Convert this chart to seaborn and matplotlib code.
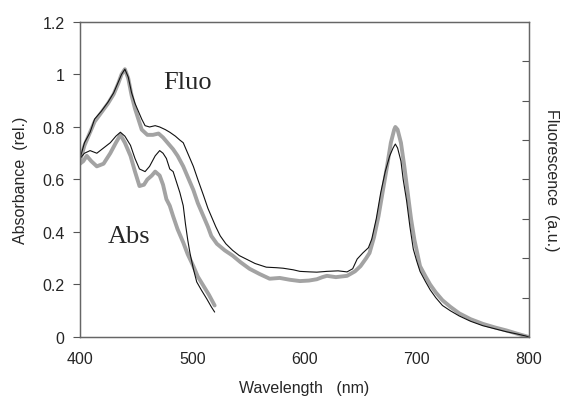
import numpy as np
import pandas as pd
import matplotlib
matplotlib.use("Agg")
import matplotlib.pyplot as plt
import seaborn as sns

# fluorescence excitation curves (400-800 nm)
fluo_black_wl = [400, 404, 409, 413, 419, 425, 430, 434, 437, 440, 443, 446, 449, 452, 455, 458, 462, 467, 471,
                 476, 480, 485, 489, 492, 496, 501, 505, 510, 514, 517, 521, 525, 530, 536, 542, 549, 556, 566,
                 575, 581, 590, 596, 605, 611, 620, 630, 638, 643, 647, 652, 657, 660, 664, 668, 672, 676, 679,
                 681, 683, 686, 688, 691, 694, 697, 700, 703, 708, 712, 717, 723, 730, 738, 748, 759, 770, 780,
                 790, 797, 800]
fluo_black_val = [0.68, 0.74, 0.78, 0.83, 0.86, 0.895, 0.93, 0.97, 1.0, 1.02, 0.99, 0.93, 0.89, 0.86, 0.83, 0.805,
                  0.80, 0.805, 0.80, 0.79, 0.78, 0.765, 0.75, 0.74, 0.70, 0.65, 0.60, 0.54, 0.49, 0.46, 0.42,
                  0.385, 0.355, 0.33, 0.31, 0.295, 0.28, 0.266, 0.264, 0.262, 0.256, 0.25, 0.248, 0.247, 0.25,
                  0.252, 0.248, 0.26, 0.297, 0.32, 0.34, 0.373, 0.45, 0.55, 0.63, 0.69, 0.72, 0.735, 0.72, 0.67,
                  0.60, 0.52, 0.42, 0.335, 0.29, 0.25, 0.21, 0.18, 0.15, 0.12, 0.10, 0.08, 0.06, 0.043, 0.031,
                  0.02, 0.011, 0.004, 0.0]

fluo_gray_wl = [400, 404, 409, 413, 419, 425, 430, 434, 437, 440, 443, 446, 449, 452, 455, 460, 465, 470, 474,
                478, 483, 487, 492, 496, 501, 505, 510, 514, 517, 522, 529, 536, 543, 551, 560, 569, 578, 587,
                596, 604, 611, 616, 620, 628, 638, 645, 650, 655, 658, 662, 666, 670, 674, 677, 680, 681, 683,
                686, 689, 692, 695, 698, 703, 708, 712, 717, 723, 730, 738, 748, 759, 770, 780, 790, 800]
fluo_gray_val = [0.67, 0.73, 0.78, 0.82, 0.855, 0.89, 0.925, 0.965, 1.0, 1.02, 0.985, 0.92, 0.87, 0.83, 0.79,
                 0.77, 0.77, 0.775, 0.76, 0.74, 0.715, 0.69, 0.65, 0.61, 0.56, 0.51, 0.46, 0.42, 0.385, 0.355,
                 0.33, 0.31, 0.285, 0.26, 0.24, 0.222, 0.225, 0.218, 0.213, 0.215, 0.22, 0.228, 0.233, 0.228,
                 0.233, 0.25, 0.27, 0.30, 0.32, 0.38, 0.46, 0.56, 0.66, 0.74, 0.79, 0.80, 0.79, 0.74, 0.65,
                 0.55, 0.45, 0.37, 0.27, 0.23, 0.20, 0.17, 0.14, 0.115, 0.09, 0.068, 0.05, 0.036, 0.025, 0.012,
                 0.0]

# absorbance curves (400-520 nm)
abs_black_wl = [400, 404, 409, 415, 421, 427, 432, 436, 440, 445, 449, 453, 458, 462, 467, 471, 474, 477, 480,
                483, 486, 489, 492, 494, 496, 498, 501, 504, 508, 513, 517, 520]
abs_black_val = [0.68, 0.70, 0.71, 0.70, 0.72, 0.74, 0.765, 0.78, 0.765, 0.73, 0.68, 0.64, 0.63, 0.65, 0.69,
                 0.71, 0.70, 0.68, 0.64, 0.63, 0.59, 0.55, 0.50, 0.43, 0.37, 0.32, 0.26, 0.21, 0.18, 0.145,
                 0.115, 0.095]

abs_gray_wl = [400, 403, 406, 410, 415, 421, 427, 432, 436, 440, 445, 449, 453, 457, 460, 464, 467, 471, 474,
               477, 480, 483, 487, 492, 496, 501, 505, 510, 515, 520]
abs_gray_val = [0.66, 0.67, 0.69, 0.67, 0.65, 0.66, 0.70, 0.74, 0.77, 0.74, 0.69, 0.63, 0.575, 0.58, 0.60,
                0.615, 0.63, 0.615, 0.58, 0.525, 0.50, 0.46, 0.41, 0.36, 0.315, 0.27, 0.23, 0.195, 0.16, 0.12]

x_ticks = [400, 500, 600, 700, 800]
y_ticks = [0, 0.2, 0.4, 0.6, 0.8, 1, 1.2]
y_tick_labels = ["0", "0.2", "0.4", "0.6", "0.8", "1", "1.2"]

sns.set_style("white")
plt.rcParams['font.family'] = ['Liberation Sans', 'DejaVu Sans']

fig = plt.figure(figsize=(5.73, 4.10), dpi=100)
ax = fig.add_axes([0.1396, 0.1756, 0.7834, 0.7684])

gray = "#a3a3a3"
sns.lineplot(x=fluo_gray_wl, y=fluo_gray_val, ax=ax, color=gray, linewidth=2.8, sort=False)
sns.lineplot(x=abs_gray_wl, y=abs_gray_val, ax=ax, color=gray, linewidth=2.8, sort=False)
sns.lineplot(x=fluo_black_wl, y=fluo_black_val, ax=ax, color="#111111", linewidth=0.8, sort=False)
sns.lineplot(x=abs_black_wl, y=abs_black_val, ax=ax, color="#111111", linewidth=0.8, sort=False)

ax.set_xlim(400, 800)
ax.set_ylim(0, 1.2)
ax.set_xticks(x_ticks)
ax.set_yticks(y_ticks)
ax.set_yticklabels(y_tick_labels)
ax.tick_params(axis='x', direction='in', length=5, labelsize=11.5, pad=10, color="#555555")
ax.tick_params(axis='y', direction='out', length=5, labelsize=11.5, pad=6, left=True, color="#555555")
ax.set_xlabel("Wavelength   (nm)", fontsize=11.5, labelpad=10)
ax.set_ylabel("Absorbance  (rel.)", fontsize=11.5, labelpad=10)
for s in ax.spines.values():
    s.set_color("#666666")
    s.set_linewidth(1.0)

ax2 = ax.twinx()
ax2.set_ylim(0, 8)
ax2.set_yticks(range(1, 8))
ax2.set_yticklabels([])
ax2.tick_params(axis='y', direction='in', length=5, right=True, color="#555555")
ax2.set_ylabel("Fluorescence  (a.u.)", fontsize=11.5, rotation=-90, labelpad=18)
for s in ax2.spines.values():
    s.set_color("#666666")

ax.text(474, 0.97, "Fluo", family=['Liberation Serif'], fontsize=19, va='center')
ax.text(425, 0.385, "Abs", family=['Liberation Serif'], fontsize=19, va='center')

fig.savefig("out.png", dpi=100)
